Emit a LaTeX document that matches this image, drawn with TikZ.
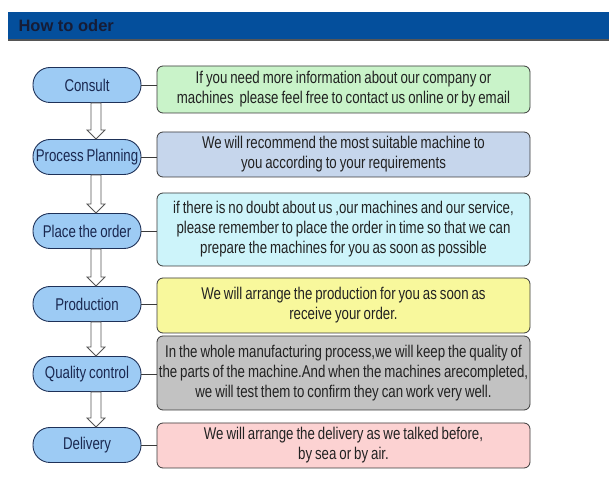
\documentclass[tikz,border=0pt]{standalone}
\usepackage{fontspec}
\setmainfont{Liberation Sans}[FakeStretch=0.78, WordSpace=0.8]
\newfontfamily\headfont{Liberation Sans}

\definecolor{barblue}{HTML}{044F9C}
\definecolor{bargray}{HTML}{555555}
\definecolor{headtext}{HTML}{161C36}
\definecolor{pillblue}{HTML}{9DCBF4}
\definecolor{pillline}{HTML}{1E3158}
\definecolor{pilltext}{HTML}{1A2850}
\definecolor{boxline}{HTML}{3A3A3A}
\definecolor{notetext}{HTML}{222222}
\definecolor{arrowline}{HTML}{555555}
\definecolor{notegreen}{HTML}{C9F3C9}
\definecolor{noteblue}{HTML}{C6D6EC}
\definecolor{notecyan}{HTML}{CDF4FA}
\definecolor{noteyellow}{HTML}{F8F89C}
\definecolor{notegray}{HTML}{C2C2C2}
\definecolor{notepink}{HTML}{FCD2D2}

\tikzset{
  stage/.style={draw=pillline, fill=pillblue, rounded corners=17pt,
    minimum width=108pt, minimum height=35pt, inner sep=0pt,
    text=pilltext, font=\fontsize{17}{20}\selectfont, line width=0.9pt},
  note/.style={draw=boxline, rounded corners=6pt, minimum width=373pt,
    align=center, inner sep=0pt, text=notetext,
    font=\fontsize{17}{20}\selectfont, line width=0.8pt},
  link/.style={draw=boxline, line width=0.8pt},
  hollowarrow/.style={draw=arrowline, fill=white, line width=0.8pt}
}

\begin{document}
\begin{tikzpicture}[x=1pt, y=-1pt]

\useasboundingbox (0,0) rectangle (614,486);

% Header bar
\fill[bargray] (8,12) rectangle (609,41);
\fill[barblue] (8,12) rectangle (609,39);
\node[anchor=west, text=headtext, font=\headfont\bfseries\fontsize{16.5}{18}\selectfont]
  (title) at (15,25.5) {How to oder};

% Stages
\node[stage] (consult)    at (87,85)  {Consult};
\node[stage] (planning)   at (87,157) {Process Planning};
\node[stage] (place)      at (87,231) {Place the order};
\node[stage] (production) at (87,304) {Production};
\node[stage] (quality)    at (87,374) {Quality control};
\node[stage] (delivery)   at (87,445) {Delivery};

% Notes
\node[note, fill=notegreen, minimum height=47pt] (n1) at (343.5,89.5)
  {If you need more information about our company or\\
   machines\ \ please feel free to contact us online or by email};
\node[note, fill=noteblue, minimum height=45pt] (n2) at (343.5,154.5)
  {We will recommend the most suitable machine to\\
   you according to your requirements};
\node[note, fill=notecyan, minimum height=73pt] (n3) at (343.5,229.5)
  {if there is no doubt about us ,our machines and our service,\\
   please remember to place the order in time so that we can\\
   prepare the machines for you as soon as possible};
\node[note, fill=noteyellow, minimum height=55pt] (n4) at (343.5,305.5)
  {We will arrange the production for you as soon as\\
   receive your order.};
\node[note, fill=notegray, minimum height=74pt] (n5) at (343.5,373)
  {In the whole manufacturing process,we will keep the quality of\\
   the parts of the machine.And when the machines arecompleted,\\
   we will test them to confirm they can work very well.};
\node[note, fill=notepink, minimum height=45pt] (n6) at (343.5,445.5)
  {We will arrange the delivery as we talked before,\\
   by sea or by air.};

% Links
\foreach \s/\n in {consult/n1,planning/n2,place/n3,production/n4,quality/n5,delivery/n6}
  \draw[link] (\s.east) -- (\s.east -| \n.west);

% Arrows
\foreach \a/\b in {consult/planning,planning/place,place/production,production/quality,quality/delivery}
  \draw[hollowarrow] ([xshift=4pt]\a.south) -- ([xshift=4pt,yshift=9pt]\b.north)
    -- ([yshift=9pt]\b.north) -- ([xshift=9pt]\b.north)
    -- ([xshift=18pt,yshift=9pt]\b.north) -- ([xshift=14pt,yshift=9pt]\b.north)
    -- ([xshift=14pt]\a.south) -- cycle;

\end{tikzpicture}
\end{document}
